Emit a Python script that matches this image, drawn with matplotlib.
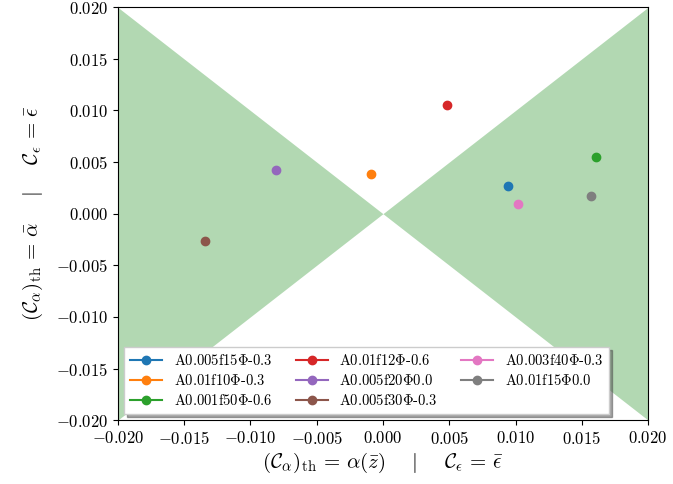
import numpy as np
import matplotlib
matplotlib.use("Agg")
import matplotlib.pyplot as plt

plt.rcParams['font.family'] = 'serif'
plt.rcParams['font.serif'] = ['cmr10']
plt.rcParams['mathtext.fontset'] = 'cm'
plt.rcParams['axes.formatter.use_mathtext'] = True

# data ~~~~~~~~~~~~~~~~~~~~~~~~~~~~~~~~~~~~~~~~~~~~~~~~~~~~~~~~~~~~~~~
labels = ['A0.005f15$\\Phi$-0.3', 'A0.01f10$\\Phi$-0.3', 'A0.001f50$\\Phi$-0.6',
          'A0.01f12$\\Phi$-0.6', 'A0.005f20$\\Phi$0.0', 'A0.005f30$\\Phi$-0.3',
          'A0.003f40$\\Phi$-0.3', 'A0.01f15$\\Phi$0.0']
c_alpha = [0.0094, -0.0009, 0.0161, 0.0048, -0.0081, -0.0134, 0.0102, 0.0157]
c_eps = [0.0027, 0.0038, 0.0055, 0.0105, 0.0042, -0.0026, 0.0009, 0.0017]
lim = 0.02

fig, ax = plt.subplots(figsize=(6.73, 4.84), dpi=100)
fig.subplots_adjust(left=0.175, right=0.963, top=0.985, bottom=0.132)

# stable region |y| < |x|
xs = np.array([-lim, 0, lim])
ax.fill_between(xs, -np.abs(xs), np.abs(xs), color='green', alpha=0.3, lw=0)

colors = plt.rcParams['axes.prop_cycle'].by_key()['color']
for i, lab in enumerate(labels):
    ax.plot([c_alpha[i]], [c_eps[i]], 'o-', color=colors[i], label=lab)

ax.set_xlim(-lim, lim)
ax.set_ylim(-lim, lim)
ax.tick_params(labelsize=12)
ax.set_xlabel(r'$(\mathcal{C}_\alpha)_{\rm th} \,=\, \alpha(\bar{z})\quad\;\, | \quad\;\, \mathcal{C}_\epsilon \,=\, \bar{\epsilon}$', fontsize=15, labelpad=3)
ax.set_ylabel(r'$(\mathcal{C}_\alpha)_{\rm th} \,=\, \bar{\alpha}\quad\;\, | \quad\;\, \mathcal{C}_\epsilon \,=\, \bar{\epsilon}$', fontsize=15, labelpad=8)
ax.legend(loc='lower left', bbox_to_anchor=(0.012, 0.015), borderaxespad=0,
          ncol=3, fontsize=10.5, fancybox=False, shadow=True, framealpha=1,
          handlelength=2.2, labelspacing=0.35, columnspacing=1.6, borderpad=0.4)

fig.savefig('out.png', dpi=100)
